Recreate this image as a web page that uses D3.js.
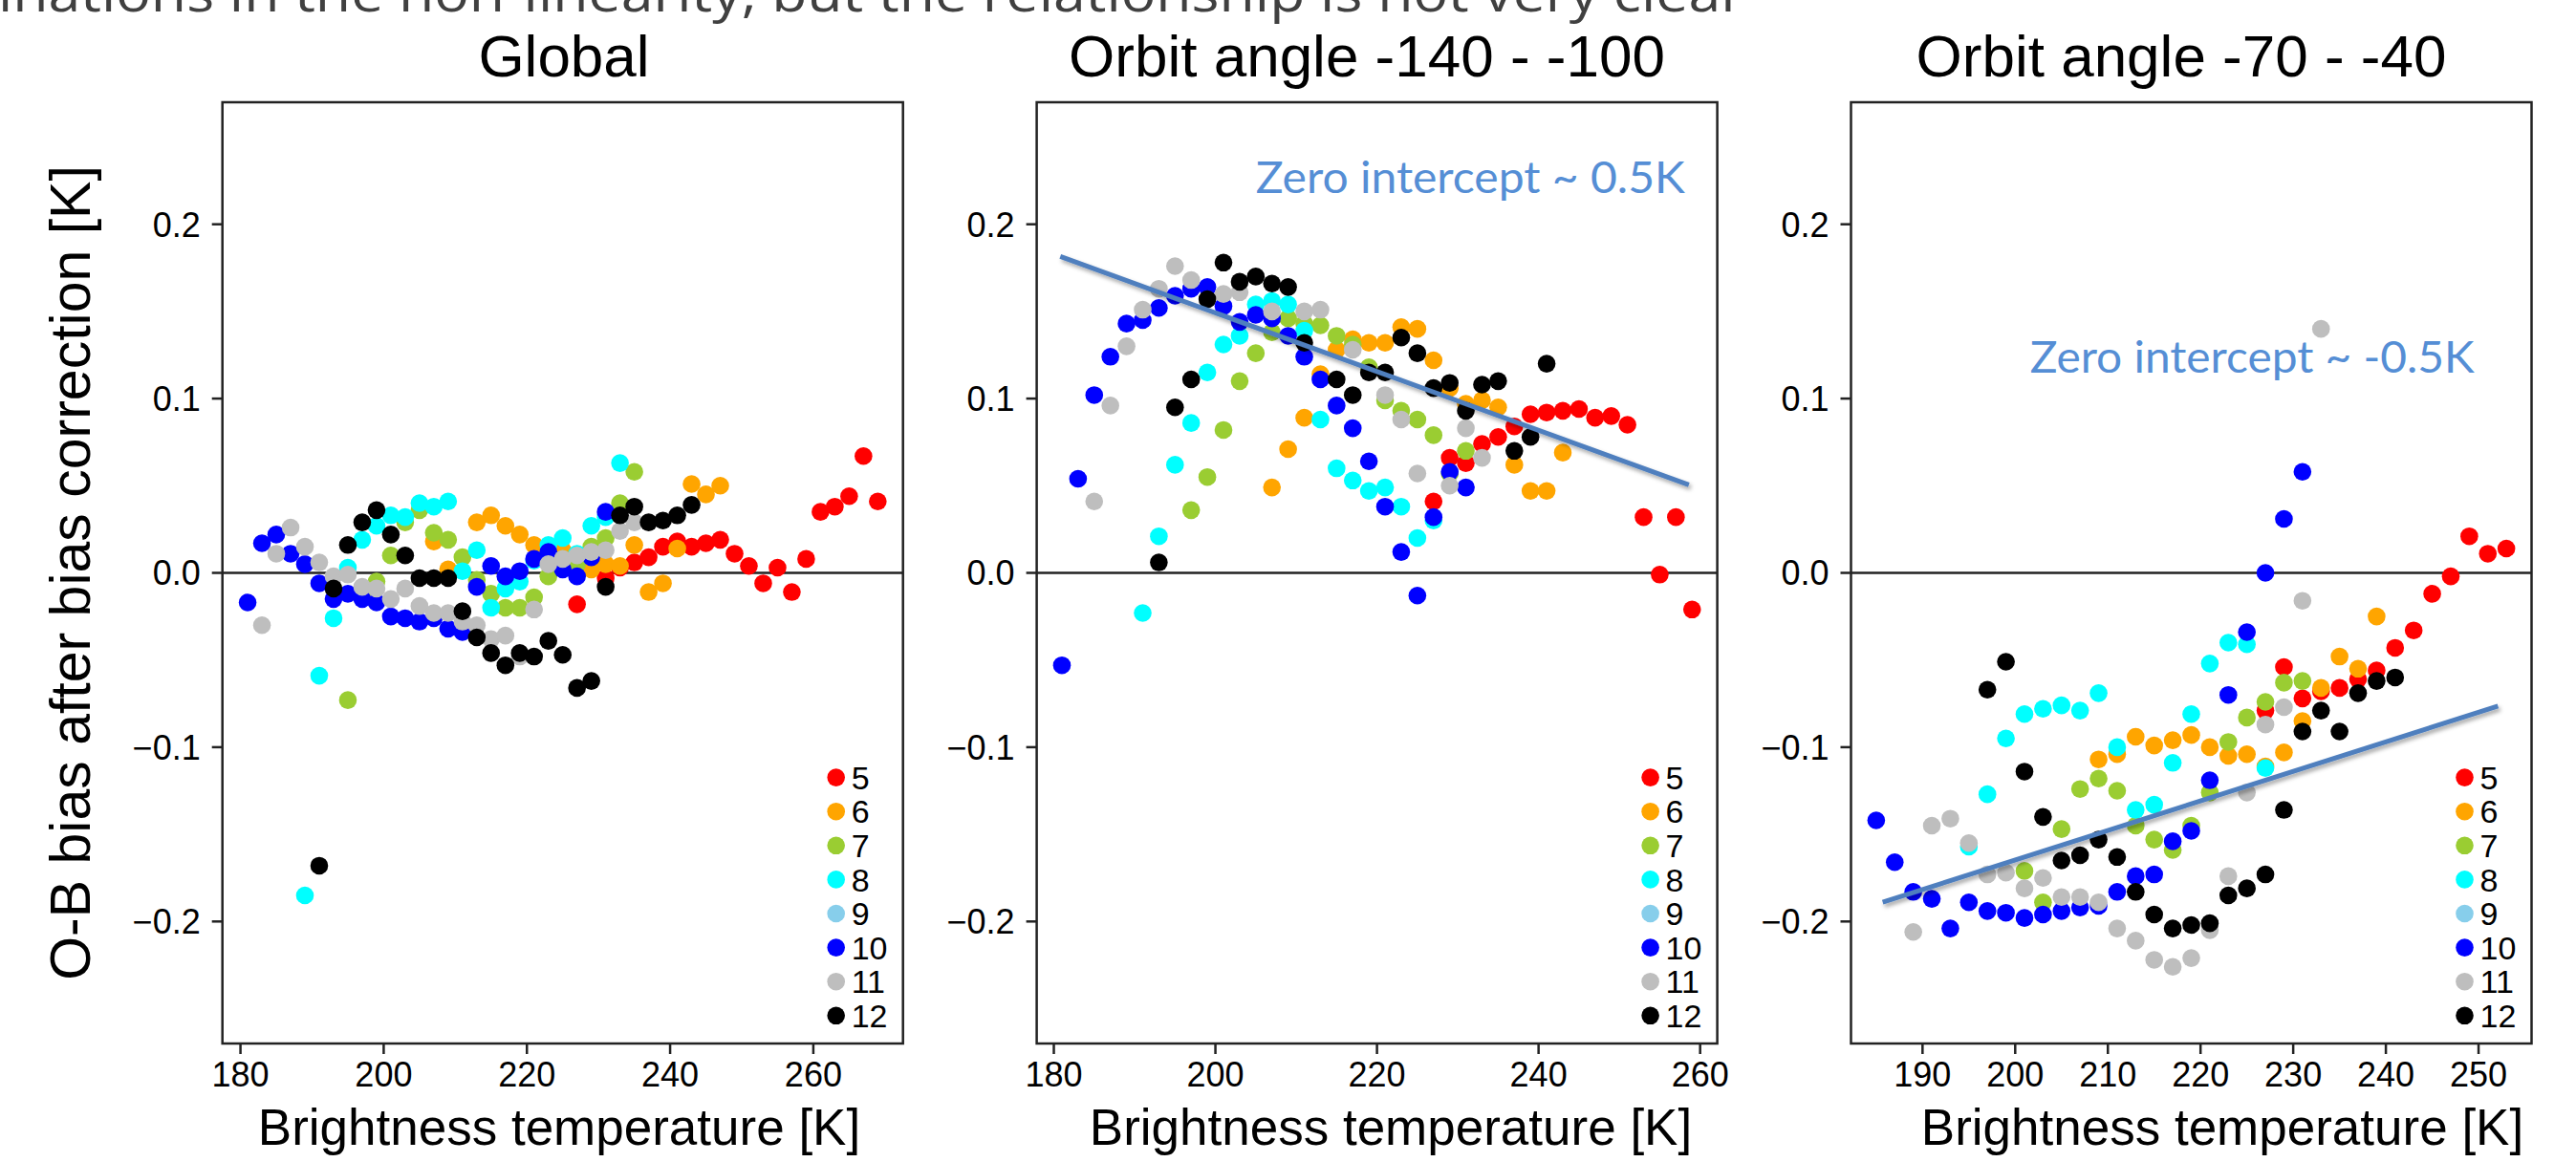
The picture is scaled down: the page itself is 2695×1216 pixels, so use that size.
<!DOCTYPE html>
<html lang="en">
<head>
<meta charset="UTF-8">
<title>O-B bias vs brightness temperature</title>
<script src="https://d3js.org/d3.v7.min.js"></script>
<style>
  body { margin: 0; background: #fff; }
  svg { display: block; }
  .tick-label { font-family: "Liberation Sans", Arial, sans-serif; font-size: 36px; fill: #000; }
  .legend-label { font-family: "Liberation Sans", Arial, sans-serif; font-size: 34px; fill: #000; }
  .panel-title { font-family: "Liberation Sans", Arial, sans-serif; font-size: 62px; fill: #000; }
  .axis-title { font-family: "Liberation Sans", Arial, sans-serif; font-size: 53px; fill: #000; }
  .note { font-family: "Lato", "Open Sans", sans-serif; font-size: 46px; fill: #558ed5; }
</style>
</head>
<body>
<svg id="chart" width="2695" height="1216"></svg>
<script>
// channels and colours (R colour names)
var channels = ["5", "6", "7", "8", "9", "10", "11", "12"];
var chColors = ["#ff0000", "#ffa500", "#9acd32", "#00ffff", "#87ceeb", "#0000ff", "#bebebe", "#000000"];

var panelTitles = ["Global", "Orbit angle -140 - -100", "Orbit angle -70 - -40"];
var xTicks = [[180, 200, 220, 240, 260], [180, 200, 220, 240, 260], [190, 200, 210, 220, 230, 240, 250]];
var yTicks = [-0.2, -0.1, 0.0, 0.1, 0.2];
var yLimits = [-0.27, 0.27];

// Global: [brightness temperature, O-B bias]
var glob5 = [[227,-0.018],[229,0.006],[231,-0.003],[233,0.003],[235,0.006],[237,0.009],[239,0.015],[241,0.018],[243,0.015],[245,0.017],[247,0.019],[249,0.011],[251,0.004],[253,-0.006],[255,0.003],[257,-0.011],[259,0.008],[261,0.035],[263,0.038],[265,0.044],[267,0.067],[269,0.041]];
var glob6 = [[207,0.018],[209,0.002],[213,0.029],[215,0.033],[217,0.027],[219,0.022],[221,0.016],[223,0.013],[225,0.013],[227,0.000],[229,0.002],[231,0.005],[233,0.004],[235,0.016],[237,-0.011],[239,-0.006],[241,0.014],[243,0.051],[245,0.045],[247,0.050]];
var glob7 = [[195,-0.073],[197,-0.012],[199,-0.005],[201,0.010],[203,0.029],[205,0.036],[207,0.023],[209,0.019],[211,0.009],[213,-0.004],[215,-0.012],[217,-0.020],[219,-0.020],[221,-0.014],[223,-0.002],[225,0.008],[227,0.005],[229,0.015],[231,0.020],[233,0.040],[235,0.058]];
var glob8 = [[189,-0.185],[191,-0.059],[193,-0.026],[195,0.003],[197,0.019],[199,0.027],[201,0.033],[203,0.032],[205,0.040],[207,0.038],[209,0.041],[211,0.001],[213,0.013],[215,-0.020],[217,-0.009],[219,-0.005],[221,0.007],[223,0.016],[225,0.020],[227,0.011],[229,0.027],[231,0.032],[233,0.063]];
var glob9 = [];
var glob10 = [[181,-0.017],[183,0.017],[185,0.022],[187,0.011],[189,0.005],[191,-0.006],[193,-0.015],[195,-0.012],[197,-0.015],[199,-0.017],[201,-0.025],[203,-0.026],[205,-0.028],[207,-0.026],[209,-0.032],[211,-0.034],[213,-0.008],[215,0.004],[217,-0.002],[219,0.001],[221,0.008],[223,0.012],[225,0.002],[227,-0.002],[229,0.009],[231,0.035]];
var glob11 = [[183,-0.030],[185,0.011],[187,0.026],[189,0.015],[191,0.006],[193,-0.002],[195,-0.001],[197,-0.008],[199,-0.009],[201,-0.015],[203,-0.009],[205,-0.019],[207,-0.023],[209,-0.023],[211,-0.028],[213,-0.030],[215,-0.038],[217,-0.036],[219,-0.048],[221,-0.021],[223,0.005],[225,0.008],[227,0.010],[229,0.012],[231,0.013],[233,0.024],[235,0.029]];
var glob12 = [[191,-0.168],[193,-0.009],[195,0.016],[197,0.029],[199,0.036],[201,0.022],[203,0.010],[205,-0.003],[207,-0.003],[209,-0.003],[211,-0.022],[213,-0.037],[215,-0.046],[217,-0.053],[219,-0.046],[221,-0.048],[223,-0.039],[225,-0.047],[227,-0.066],[229,-0.062],[231,-0.008],[233,0.033],[235,0.038],[237,0.029],[239,0.030],[241,0.033],[243,0.039]];

// Orbit angle -140 - -100
var orbA5 = [[227,0.041],[229,0.066],[231,0.063],[233,0.074],[235,0.078],[237,0.084],[239,0.091],[241,0.092],[243,0.093],[245,0.094],[247,0.089],[249,0.090],[251,0.085],[253,0.032],[255,-0.001],[257,0.032],[259,-0.021]];
var orbA6 = [[207,0.049],[209,0.071],[211,0.089],[213,0.114],[215,0.128],[217,0.134],[219,0.132],[221,0.132],[223,0.141],[225,0.140],[227,0.122],[229,0.106],[231,0.097],[233,0.099],[235,0.095],[237,0.062],[239,0.047],[241,0.047],[243,0.069]];
var orbA7 = [[197,0.036],[199,0.055],[201,0.082],[203,0.110],[205,0.126],[207,0.138],[209,0.146],[211,0.143],[213,0.142],[215,0.136],[217,0.131],[219,0.118],[221,0.099],[223,0.093],[225,0.088],[227,0.079],[229,0.057],[231,0.070]];
var orbA8 = [[191,-0.023],[193,0.021],[195,0.062],[197,0.086],[199,0.115],[201,0.131],[203,0.136],[205,0.154],[207,0.156],[209,0.154],[211,0.139],[213,0.088],[215,0.060],[217,0.053],[219,0.047],[221,0.049],[223,0.038],[225,0.020],[227,0.030]];
var orbA9 = [];
var orbA10 = [[181,-0.053],[183,0.054],[185,0.102],[187,0.124],[189,0.143],[191,0.145],[193,0.152],[195,0.159],[197,0.163],[199,0.164],[201,0.153],[203,0.144],[205,0.148],[207,0.146],[209,0.136],[211,0.124],[213,0.111],[215,0.096],[217,0.083],[219,0.064],[221,0.038],[223,0.012],[225,-0.013],[227,0.032],[229,0.058],[231,0.049]];
var orbA11 = [[185,0.041],[187,0.096],[189,0.130],[191,0.151],[193,0.163],[195,0.176],[197,0.168],[201,0.160],[203,0.161],[207,0.150],[211,0.150],[213,0.151],[217,0.128],[221,0.102],[223,0.088],[225,0.057],[229,0.050],[231,0.083],[233,0.066]];
var orbA12 = [[193,0.006],[195,0.095],[197,0.111],[199,0.157],[201,0.178],[203,0.167],[205,0.170],[207,0.166],[209,0.164],[211,0.132],[215,0.111],[217,0.102],[219,0.115],[221,0.115],[223,0.135],[225,0.126],[227,0.106],[229,0.109],[231,0.093],[233,0.108],[235,0.110],[237,0.070],[239,0.078],[241,0.120]];

// Orbit angle -70 - -40
var orbB5 = [[227,-0.079],[229,-0.054],[231,-0.072],[233,-0.068],[235,-0.066],[237,-0.061],[239,-0.056],[241,-0.043],[243,-0.033],[245,-0.012],[247,-0.002],[249,0.021],[251,0.011],[253,0.014]];
var orbB6 = [[209,-0.107],[211,-0.104],[213,-0.094],[215,-0.099],[217,-0.096],[219,-0.093],[221,-0.100],[223,-0.105],[225,-0.104],[227,-0.111],[229,-0.103],[231,-0.085],[233,-0.066],[235,-0.048],[237,-0.055],[239,-0.025]];
var orbB7 = [[201,-0.171],[203,-0.189],[205,-0.147],[207,-0.124],[209,-0.118],[211,-0.125],[213,-0.145],[215,-0.153],[217,-0.159],[219,-0.145],[221,-0.126],[223,-0.097],[225,-0.083],[227,-0.074],[229,-0.063],[231,-0.062]];
var orbB8 = [[195,-0.157],[197,-0.127],[199,-0.095],[201,-0.081],[203,-0.078],[205,-0.076],[207,-0.079],[209,-0.069],[211,-0.100],[213,-0.136],[215,-0.133],[217,-0.109],[219,-0.081],[221,-0.052],[223,-0.040],[225,-0.041],[227,-0.112]];
var orbB9 = [];
var orbB10 = [[185,-0.142],[187,-0.166],[189,-0.183],[191,-0.187],[193,-0.204],[195,-0.189],[197,-0.194],[199,-0.195],[201,-0.198],[203,-0.196],[205,-0.194],[207,-0.192],[209,-0.191],[211,-0.183],[213,-0.174],[215,-0.173],[217,-0.154],[219,-0.148],[221,-0.119],[223,-0.070],[225,-0.034],[227,0.000],[229,0.031],[231,0.058]];
var orbB11 = [[189,-0.206],[191,-0.145],[193,-0.141],[195,-0.155],[197,-0.173],[199,-0.172],[201,-0.181],[203,-0.175],[205,-0.186],[207,-0.186],[209,-0.189],[211,-0.204],[213,-0.211],[215,-0.222],[217,-0.226],[219,-0.221],[221,-0.205],[223,-0.174],[225,-0.126],[227,-0.087],[229,-0.077],[231,-0.016],[233,0.140]];
var orbB12 = [[197,-0.067],[199,-0.051],[201,-0.114],[203,-0.140],[205,-0.165],[207,-0.162],[209,-0.153],[211,-0.163],[213,-0.183],[215,-0.196],[217,-0.204],[219,-0.202],[221,-0.201],[223,-0.185],[225,-0.181],[227,-0.173],[229,-0.136],[231,-0.091],[233,-0.079],[235,-0.091],[237,-0.069],[239,-0.062],[241,-0.060]];

// fitted lines: [T start, T end, intercept, slope]
var fitA = [180.8, 258.6, 0.486, -0.001684];
var fitB = [185.7, 252.1, -0.5035, 0.001694];
var noteTexts = [null, "Zero intercept ~ 0.5K", "Zero intercept ~ -0.5K"];
var notePos = [null, [205.0, 0.218], [201.6, 0.1146]];
var noteWidth = [0, 449, 465];

var panelSeries = [
  [glob5, glob6, glob7, glob8, glob9, glob10, glob11, glob12],
  [orbA5, orbA6, orbA7, orbA8, orbA9, orbA10, orbA11, orbA12],
  [orbB5, orbB6, orbB7, orbB8, orbB9, orbB10, orbB11, orbB12]
];
var panelFits = [null, fitA, fitB];

// layout
var panelLeft = [232.7, 1084.6, 1936.5],
    panelTop = 107,
    panelW = 712,
    panelH = 985;
var titleX = [590, 1430, 2282];
var xTitleX = [585, 1455, 2325];

var svg = d3.select("#chart");

// shadow for the fitted lines
var defs = svg.append("defs");
defs.append("filter").attr("id", "shadow")
    .attr("x", "-10%").attr("y", "-50%").attr("width", "120%").attr("height", "200%")
  .append("feDropShadow")
    .attr("dx", 2).attr("dy", 3).attr("stdDeviation", 2)
    .attr("flood-color", "#000").attr("flood-opacity", 0.35);

// slide text at the very top, cut off by the page edge as in the source
svg.append("text")
    .attr("x", -2).attr("y", 12)
    .attr("textLength", 1827).attr("lengthAdjust", "spacingAndGlyphs")
    .style("font-family", "'Open Sans', sans-serif")
    .style("font-size", "54px")
    .style("fill", "#404040")
    .text("inations in the non-linearity, but the relationship is not very clear");

// y axis title (only once, left of first panel)
svg.append("text")
    .attr("class", "axis-title")
    .attr("transform", "translate(94," + (panelTop + panelH / 2) + ") rotate(-90)")
    .attr("text-anchor", "middle")
    .style("font-size", "59px")
    .text("O-B bias after bias correction [K]");

var yFmt = d3.format(".1f");

panelSeries.forEach(function(series, p) {
  var g = svg.append("g")
      .attr("transform", "translate(" + panelLeft[p] + "," + panelTop + ")");

  // R style range: data extent padded by 4%
  var allT = [];
  series.forEach(function(s) { s.forEach(function(d) { allT.push(d[0]); }); });
  var ext = d3.extent(allT),
      pad = (ext[1] - ext[0]) * 0.04;

  var x = d3.scaleLinear().domain([ext[0] - pad, ext[1] + pad]).range([0, panelW]);
  var y = d3.scaleLinear().domain(yLimits).range([panelH, 0]);

  // zero line
  g.append("line")
      .attr("x1", 0).attr("x2", panelW)
      .attr("y1", y(0)).attr("y2", y(0))
      .attr("stroke", "#222").attr("stroke-width", 2.5);

  // points
  series.forEach(function(s, i) {
    g.append("g").selectAll("circle")
        .data(s)
      .enter().append("circle")
        .attr("cx", function(d) { return x(d[0]); })
        .attr("cy", function(d) { return y(d[1]); })
        .attr("r", 9.3)
        .attr("fill", chColors[i]);
  });

  // fitted line
  var fit = panelFits[p];
  if (fit) {
    g.append("line")
        .attr("x1", x(fit[0])).attr("y1", y(fit[2] + fit[3] * fit[0]))
        .attr("x2", x(fit[1])).attr("y2", y(fit[2] + fit[3] * fit[1]))
        .attr("stroke", "#4f7fbe").attr("stroke-width", 5)
        .attr("filter", "url(#shadow)");

    g.append("text")
        .attr("class", "note")
        .attr("x", x(notePos[p][0])).attr("y", y(notePos[p][1]))
        .attr("textLength", noteWidth[p]).attr("lengthAdjust", "spacingAndGlyphs")
        .text(noteTexts[p]);
  }

  // box
  g.append("rect")
      .attr("width", panelW).attr("height", panelH)
      .attr("fill", "none").attr("stroke", "#222").attr("stroke-width", 2.5);

  // x axis ticks
  var xt = g.append("g").attr("transform", "translate(0," + panelH + ")");
  xTicks[p].forEach(function(t) {
    xt.append("line")
        .attr("x1", x(t)).attr("x2", x(t))
        .attr("y1", 0).attr("y2", 11)
        .attr("stroke", "#222").attr("stroke-width", 2.5);
    xt.append("text")
        .attr("class", "tick-label")
        .attr("x", x(t)).attr("y", 45)
        .attr("text-anchor", "middle")
        .text(t);
  });

  // y axis ticks
  yTicks.forEach(function(t) {
    g.append("line")
        .attr("x1", -11).attr("x2", 0)
        .attr("y1", y(t)).attr("y2", y(t))
        .attr("stroke", "#222").attr("stroke-width", 2.5);
    g.append("text")
        .attr("class", "tick-label")
        .attr("x", -23).attr("y", y(t))
        .attr("dy", "0.36em")
        .attr("text-anchor", "end")
        .text(yFmt(t));
  });

  // legend
  var lg = g.append("g").attr("transform", "translate(" + (panelW - 70) + ",706.6)");
  channels.forEach(function(c, i) {
    lg.append("circle")
        .attr("cx", 0).attr("cy", i * 35.6)
        .attr("r", 9.3)
        .attr("fill", chColors[i]);
    lg.append("text")
        .attr("class", "legend-label")
        .attr("x", 16).attr("y", i * 35.6)
        .attr("dy", "0.36em")
        .text(c);
  });

  // titles
  svg.append("text")
      .attr("class", "panel-title")
      .attr("x", titleX[p]).attr("y", 80)
      .attr("text-anchor", "middle")
      .text(panelTitles[p]);

  svg.append("text")
      .attr("class", "axis-title")
      .attr("x", xTitleX[p]).attr("y", 1198)
      .attr("text-anchor", "middle")
      .text("Brightness temperature [K]");
});
</script>
</body>
</html>
